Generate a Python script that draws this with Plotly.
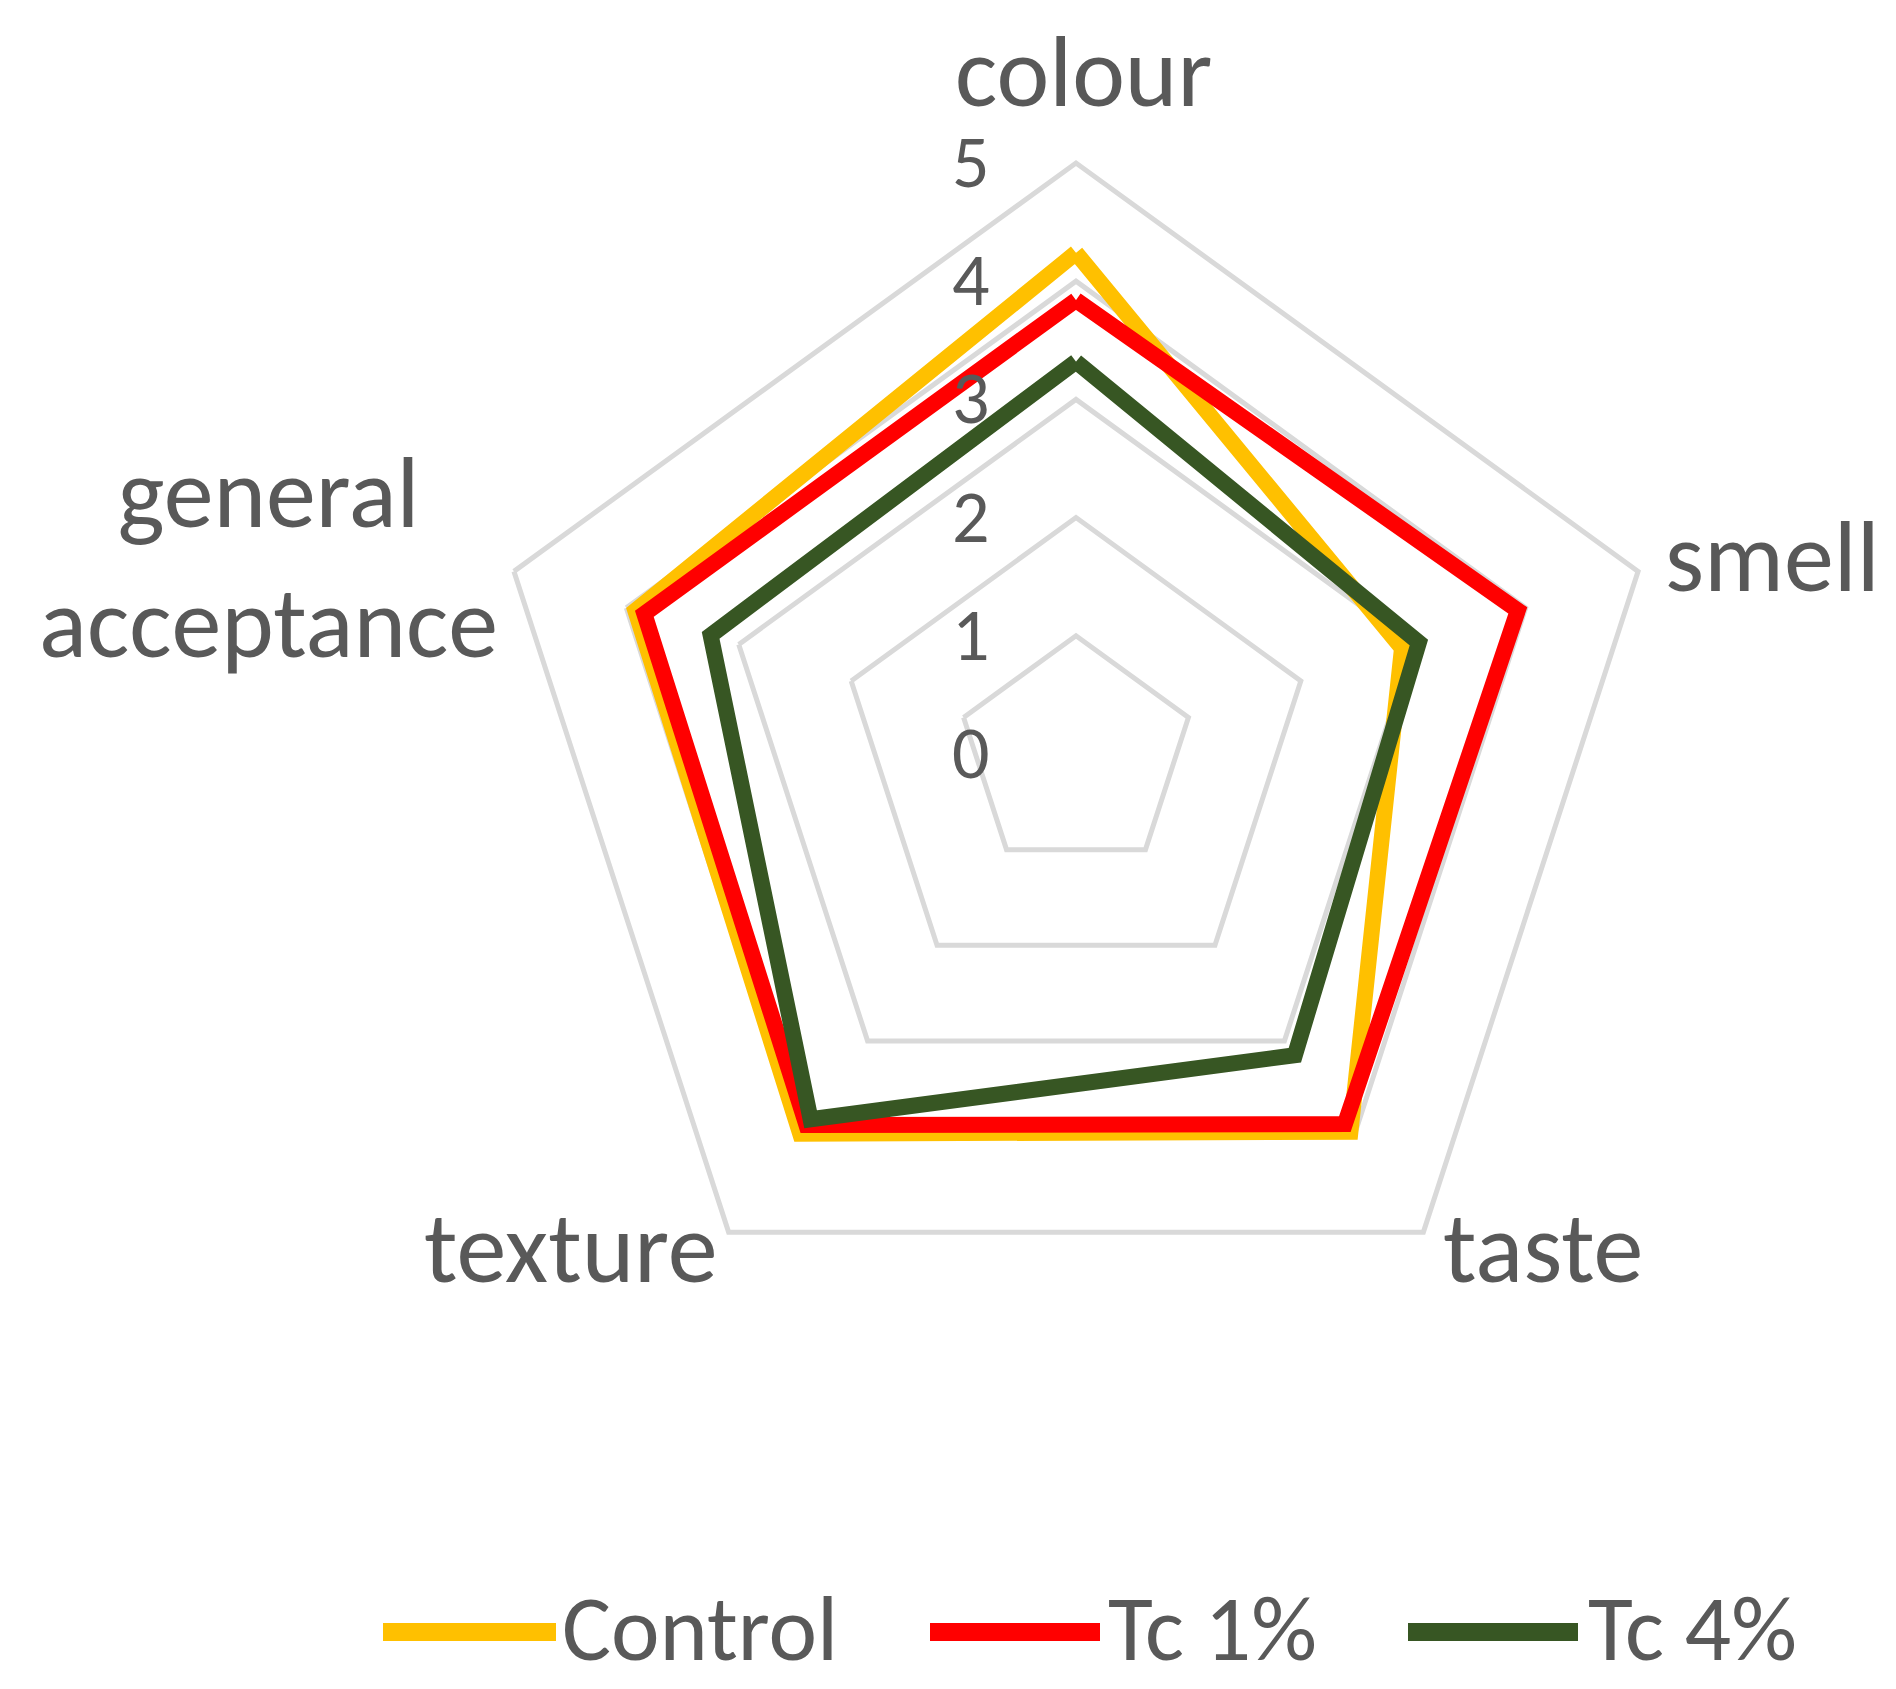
import plotly.graph_objects as go

categories = ["colour", "smell", "taste", "texture", "general acceptance"]
category_labels = ["colour", "smell", "taste", "texture", "general<br>acceptance"]
control = [4.24, 2.90, 3.95, 3.97, 3.92]
tc1 = [3.84, 3.93, 3.87, 3.88, 3.84]
tc4 = [3.32, 3.05, 3.15, 3.82, 3.25]
series_names = ["Control", "Tc 1%", "Tc 4%"]
series_colors = ["#FFC000", "#FF0000", "#375623"]
radial_ticks = [0, 1, 2, 3, 4, 5]

FONT = "Carlito, Lato, sans-serif"
TXT = "#595959"
W, H = 1896, 1689
cx, cy, R = 1068, 746, 591

fig = go.Figure()
for name, vals, col in zip(series_names, [control, tc1, tc4], series_colors):
    fig.add_trace(go.Scatterpolar(
        r=vals + vals[:1],
        theta=categories + categories[:1],
        mode="lines",
        name=name,
        showlegend=False,
        line=dict(color=col, width=16),
    ))

fig.update_layout(
    width=W, height=H,
    margin=dict(l=0, r=0, t=0, b=0),
    paper_bgcolor="white",
    font=dict(family=FONT, color=TXT, size=100),
    polar=dict(
        domain=dict(x=[(cx - R) / W, (cx + R) / W],
                    y=[(H - cy - R) / H, (H - cy + R) / H]),
        gridshape="linear",
        bgcolor="white",
        angularaxis=dict(
            rotation=90, direction="clockwise",
            showline=True, linecolor="#D9D9D9", linewidth=5,
            showgrid=False, ticks="", showticklabels=False,
        ),
        radialaxis=dict(
            range=[0, 5], tickvals=radial_ticks, angle=90,
            showline=False, gridcolor="#D9D9D9", gridwidth=5,
            ticks="outside", ticklen=60, tickcolor="rgba(0,0,0,0)",
            tickfont=dict(size=74, color=TXT, family=FONT),
            tickangle=90, side="counterclockwise",
        ),
    ),
    showlegend=False,
)

# category labels (placed around the pentagon like the original)
label_pos = {
    "colour": (1075, 64, "center"),
    "smell": (1655, 549, "left"),
    "taste": (1433, 1240, "left"),
    "texture": (712, 1240, "right"),
    "general acceptance": (260, 550, "center"),
}
for cat, lab in zip(categories, category_labels):
    px, py, anchor = label_pos[cat]
    fig.add_annotation(
        x=px / W, y=1 - py / H, xref="paper", yref="paper",
        text=lab, showarrow=False, xanchor=anchor, yanchor="middle",
        align="center", font=dict(size=100, color=TXT, family=FONT),
    )

# legend drawn like the original (long line keys)
legend_y = 1624
legend_items = [(375, 548, 552), (922, 1092, 1098), (1400, 1570, 1578)]
for (x0, x1, tx), name, col in zip(legend_items, series_names, series_colors):
    fig.add_shape(type="line", xref="paper", yref="paper",
                  x0=x0 / W, x1=x1 / W, y0=1 - legend_y / H, y1=1 - legend_y / H,
                  line=dict(color=col, width=18))
    fig.add_annotation(
        x=tx / W, y=1 - (legend_y - 4) / H, xref="paper", yref="paper",
        text=name, showarrow=False, xanchor="left", yanchor="middle",
        font=dict(size=92, color=TXT, family=FONT),
    )

fig.write_html("out.html")
